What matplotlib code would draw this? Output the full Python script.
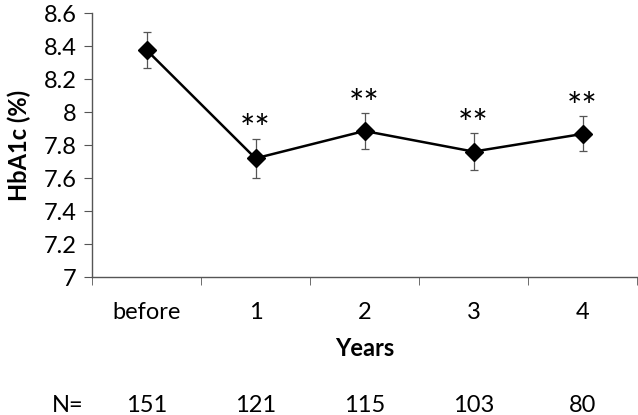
import numpy as np
import matplotlib
matplotlib.use("Agg")
import matplotlib.pyplot as plt

plt.rcParams['font.family'] = ['Lato', 'DejaVu Sans']

# datos
categorias = ["before", "1", "2", "3", "4"]
hba1c = [8.376, 7.719, 7.885, 7.760, 7.867]
error = [0.110, 0.117, 0.107, 0.110, 0.106]
marcas = ["", "**", "**", "**", "**"]
n_pacientes = [151, 121, 115, 103, 80]

x = np.arange(len(categorias))
fs = 17

fig = plt.figure(figsize=(6.38, 4.15), dpi=100)
ax = fig.add_axes([92/638, (415-277)/415, (637-92)/638, (277-13)/415])

ax.errorbar(x, hba1c, yerr=error, fmt='none', ecolor='#555555',
            elinewidth=0.9, capsize=3, capthick=0.9, zorder=2)
ax.plot(x, hba1c, color='black', lw=1.8, marker='D', markersize=9, zorder=3)

# asteriscos de significancia
for i in range(len(x)):
    if marcas[i]:
        ax.text(x[i], hba1c[i] + error[i] + 0.05, marcas[i], ha='center', va='center',
                fontsize=26, color='black')

ax.set_xlim(-0.5, 4.5)
ax.set_ylim(7, 8.6)
ax.set_yticks(np.arange(7, 8.61, 0.2))
ax.set_yticklabels(["7", "7.2", "7.4", "7.6", "7.8", "8", "8.2", "8.4", "8.6"])
ax.set_xticks(x)
ax.set_xticklabels(categorias)
ax.set_xticks(np.arange(-0.5, 4.6, 1), minor=True)
ax.tick_params(axis='x', which='major', length=0, pad=18, labelsize=fs)
ax.tick_params(axis='x', which='minor', length=6, color='#555555')
ax.tick_params(axis='y', length=6, color='#555555', labelsize=fs, pad=5)

for s in ['top', 'right']:
    ax.spines[s].set_visible(False)
for s in ['left', 'bottom']:
    ax.spines[s].set_color('#555555')
    ax.spines[s].set_linewidth(1.0)

ax.set_ylabel("HbA1c (%)", fontsize=fs, fontweight='bold', labelpad=9)
ax.set_xlabel("Years", fontsize=fs, fontweight='bold', labelpad=10)

# fila de N
trans = ax.get_xaxis_transform()
ax.text(-0.72, -0.485, "N=", transform=trans, ha='center', va='center', fontsize=fs, clip_on=False)
for i in range(len(x)):
    ax.text(x[i], -0.485, str(n_pacientes[i]), transform=trans, ha='center', va='center',
            fontsize=fs, clip_on=False)

plt.savefig("out.png", dpi=100)
